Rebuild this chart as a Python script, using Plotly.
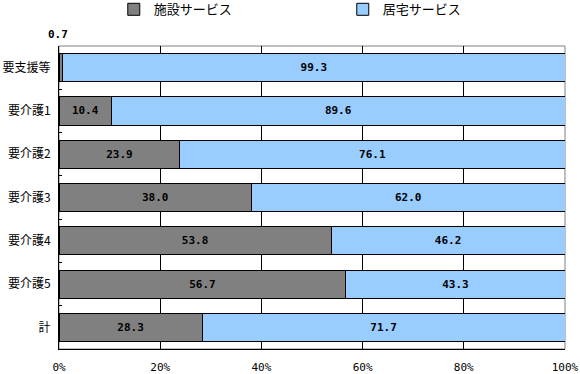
import plotly.graph_objects as go

categories = ["要支援等", "要介護1", "要介護2", "要介護3", "要介護4", "要介護5", "計"]
shisetsu = [0.7, 10.4, 23.9, 38.0, 53.8, 56.7, 28.3]
kyotaku = [99.3, 89.6, 76.1, 62.0, 46.2, 43.3, 71.7]
x_ticks = [0, 20, 40, 60, 80, 100]
x_tick_labels = ["0%", "20%", "40%", "60%", "80%", "100%"]

label_font = dict(family="DejaVu Sans Mono, monospace", size=11, color="black")

def txt(vals, min_show):
    return [f"<b>{v:.1f}</b>" if v >= min_show else "" for v in vals]

fig = go.Figure()
fig.add_trace(go.Bar(
    y=categories, x=shisetsu, orientation="h", name="施設サービス",
    marker=dict(color="#808080", line=dict(color="black", width=1)),
    text=txt(shisetsu, 5), textposition="inside", insidetextanchor="middle",
    textfont=label_font,
))
fig.add_trace(go.Bar(
    y=categories, x=kyotaku, orientation="h", name="居宅サービス",
    marker=dict(color="#99CCFF", line=dict(color="black", width=1)),
    text=txt(kyotaku, 5), textposition="inside", insidetextanchor="middle",
    textfont=label_font,
))

# small value label outside bar for the first category
for c, v in zip(categories, shisetsu):
    if v < 5:
        fig.add_annotation(x=v, y=c, text=f"<b>{v:.1f}</b>", showarrow=False,
                           xanchor="center", yanchor="bottom", yshift=25, xshift=-5,
                           font=label_font)

fig.update_layout(
    barmode="stack",
    bargap=0.35,
    width=580, height=374,
    margin=dict(l=59, r=15, t=46, b=25, autoexpand=False),
    paper_bgcolor="white", plot_bgcolor="white",
    font=dict(family="Noto Sans CJK JP", size=12, color="black"),
    legend=dict(orientation="h", x=0.591, xanchor="center", y=0.975, yanchor="middle",
                xref="container", yref="container", font=dict(size=13),
                traceorder="normal", entrywidth=184, tracegroupgap=0,
                valign="middle"),
    showlegend=True,
)
fig.update_xaxes(
    range=[0, 100], tickvals=x_ticks, ticktext=x_tick_labels,
    showgrid=True, gridcolor="black", gridwidth=1,
    showline=True, linecolor="black", linewidth=1,
    tickfont=dict(family="DejaVu Sans Mono, monospace", size=11), ticks="",
    ticklabelstandoff=8, zeroline=False, automargin=False,
)
fig.update_yaxes(
    autorange="reversed", showline=True, linecolor="black", linewidth=1,
    ticks="inside", ticklen=3, tickson="boundaries", tickcolor="black",
    tickfont=dict(size=12), showgrid=False, automargin=False,
    ticklabelstandoff=5,
)
# gray top/right border
fig.add_shape(type="rect", xref="paper", yref="paper", x0=0, x1=1, y0=0, y1=1,
              line=dict(color="#808080", width=1), layer="below")

fig.write_html("out.html", config={"displayModeBar": False},
               post_script="document.body.style.margin='0';document.body.style.overflow='hidden';")
